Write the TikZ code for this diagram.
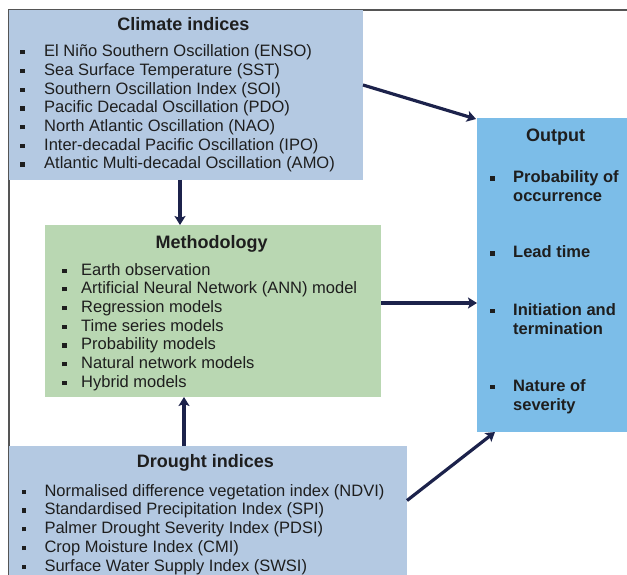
\documentclass[tikz,border=0pt]{standalone}
\usepackage{fontspec}
\setmainfont{Liberation Sans}
\usetikzlibrary{arrows.meta}
\definecolor{climbl}{RGB}{180,201,226}
\definecolor{methgr}{RGB}{185,215,178}
\definecolor{outbl}{RGB}{124,189,232}
\definecolor{arrnavy}{RGB}{28,34,75}
\definecolor{framegr}{RGB}{85,85,85}
\definecolor{txt}{RGB}{30,30,30}
\newcommand{\bsq}{\rule[2.2pt]{4.3pt}{4.3pt}}
\tikzset{
  boxnode/.style={draw=none, inner sep=0pt, outer sep=0pt, anchor=north west},
  titletext/.style={inner sep=0pt, anchor=base, text=txt, font=\fontsize{18}{21}\selectfont\bfseries},
  itemtext/.style={inner sep=0pt, anchor=base west, text=txt, font=\fontsize{16.5}{19}\selectfont},
  outtext/.style={inner sep=0pt, anchor=base west, text=txt, font=\fontsize{16.5}{19}\selectfont\bfseries},
  arr/.style={draw=arrnavy, line width=3.2pt, -{Stealth[length=9pt,width=11pt,inset=2pt]}},
}
\begin{document}
\begin{tikzpicture}[x=1pt,y=-1pt]
\useasboundingbox (0,0) rectangle (627,575);
% frame
\draw[framegr, line width=1.2pt] (9,575) -- (9,10) -- (627,10);
% boxes
\node[boxnode, fill=climbl, minimum width=354pt, minimum height=170pt] (clim) at (9,10) {};
\node[boxnode, fill=methgr, minimum width=336pt, minimum height=172pt] (meth) at (45,225) {};
\node[boxnode, fill=outbl, minimum width=150pt, minimum height=314pt] (out) at (477,118) {};
\node[boxnode, fill=climbl, minimum width=398pt, minimum height=129pt] (drought) at (9,446) {};
% climate indices
\node[titletext] (climt) at (183.3,31) {Climate indices};
\foreach \t [count=\i] in {El Niño Southern Oscillation (ENSO),Sea Surface Temperature (SST),Southern Oscillation Index (SOI),Pacific Decadal Oscillation (PDO),North Atlantic Oscillation (NAO),Inter-decadal Pacific Oscillation (IPO),Atlantic Multi-decadal Oscillation (AMO)}
  \node[itemtext] (c\i) at (20,{56.7+18.7*(\i-1)}) {\makebox[24pt][l]{\bsq}\t};
% methodology
\node[titletext] (metht) at (211.7,248) {Methodology};
\foreach \t [count=\i] in {Earth observation,Artificial Neural Network (ANN) model,Regression models,Time series models,Probability models,Natural network models,Hybrid models}
  \node[itemtext] (m\i) at (62,{275+18.7*(\i-1)}) {\makebox[19pt][l]{\bsq}\t};
% output
\node[titletext] (outt) at (555.5,142) {Output};
\node[outtext] (o1) at (490,183) {\makebox[23pt][l]{\bsq}Probability of};
\node[outtext] (o1b) at (513,202) {occurrence};
\node[outtext] (o2) at (490,258) {\makebox[23pt][l]{\bsq}Lead time};
\node[outtext] (o3) at (490,315) {\makebox[23pt][l]{\bsq}Initiation and};
\node[outtext] (o3b) at (513,334) {termination};
\node[outtext] (o4) at (490,391) {\makebox[23pt][l]{\bsq}Nature of};
\node[outtext] (o4b) at (513,410) {severity};
% drought indices
\node[titletext] (drt) at (205.5,467) {Drought indices};
\foreach \t [count=\i] in {Normalised difference vegetation index (NDVI),Standardised Precipitation Index (SPI),Palmer Drought Severity Index (PDSI),Crop Moisture Index (CMI),Surface Water Supply Index (SWSI)}
  \node[itemtext] (d\i) at (21.7,{496+18.8*(\i-1)}) {\makebox[22.6pt][l]{\bsq}\t};
% connectors
\draw[arr] ([xshift=-6pt]clim.south) -- ([xshift=-6pt]clim.south |- meth.north);
\draw[arr] ([xshift=-24pt]drought.north) -- ([xshift=-24pt]drought.north |- meth.south);
\draw[arr] ([yshift=8pt]meth.east) -- ([yshift=8pt]meth.east -| out.west);
\draw[arr] ([yshift=10pt]clim.east) -- ([xshift=-1pt,yshift=-1pt]out.north west);
\draw[arr] ([yshift=10pt]drought.east) -- ([xshift=18pt]out.south west);
\end{tikzpicture}
\end{document}
